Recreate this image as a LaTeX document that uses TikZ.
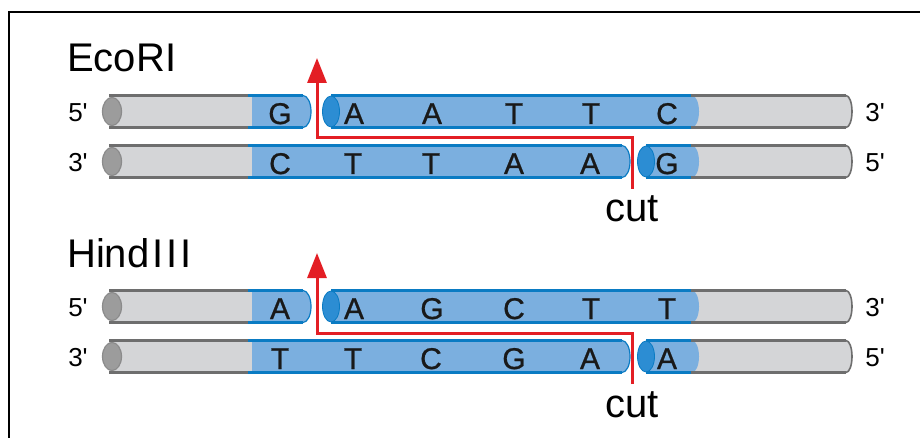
\documentclass[tikz,border=0pt]{standalone}
\usepackage{fontspec}
\setmainfont{Liberation Sans}
\newfontfamily\medfont[FakeBold=0.8]{Liberation Sans}
\usetikzlibrary{arrows.meta}
\definecolor{gfillc}{HTML}{D4D5D7}
\definecolor{glinec}{HTML}{6E6E6E}
\definecolor{bfillc}{HTML}{7BAFDF}
\definecolor{blinec}{HTML}{0A7BC3}
\definecolor{bcapc}{HTML}{2C8DD3}
\definecolor{lcapc}{HTML}{9C9C9C}
\definecolor{redc}{HTML}{E31E24}
\tikzset{
  gline/.style={draw=glinec,line width=3pt},
  bline/.style={draw=blinec,line width=3pt},
  bthin/.style={draw=blinec,line width=1.2pt},
  gthin/.style={draw=glinec,line width=1.6pt},
  base/.style={font=\medfont\fontsize{30}{30}\selectfont,anchor=base,inner sep=0pt,text=black!90},
  endlbl/.style={font=\fontsize{26}{26}\selectfont,anchor=base,inner sep=0pt},
  enzlbl/.style={font=\fontsize{40}{40}\selectfont,anchor=base west,inner sep=0pt},
  cutlbl/.style={font=\fontsize{40}{40}\selectfont,anchor=base,inner sep=0pt},
  redarrow/.style={draw=redc,line width=3pt,-{Triangle[width=19pt,length=25pt]}},
}
% #1 = centre y, #2 = end of straight part of left blue segment, #3 = centre of the blue cap of right segment
\newcommand{\dnastrand}[3]{%
  \fill[gfillc] (109,#1-16) rectangle (256,#1+16);
  \fill[gfillc] (686,#1-16) -- (846,#1-16) arc[start angle=-90,end angle=90,x radius=6,y radius=16] -- (686,#1+16) -- cycle;
  \fill[bfillc] (252,#1-16) -- (#2,#1-16) arc[start angle=-90,end angle=90,x radius=8,y radius=16] -- (252,#1+16) -- cycle;
  \fill[bfillc] (#3,#1-16) -- (692,#1-16) arc[start angle=-90,end angle=90,x radius=7,y radius=16] -- (#3,#1+16) -- cycle;
  \draw[gline] (109,#1-16) -- (248,#1-16) (109,#1+16) -- (248,#1+16);
  \draw[gline] (691,#1-16) -- (846,#1-16) (691,#1+16) -- (846,#1+16);
  \draw[gthin] (846,#1-16) arc[start angle=-90,end angle=90,x radius=6,y radius=16];
  \draw[bline] (248,#1-16) -- (#2,#1-16) (248,#1+16) -- (#2,#1+16);
  \draw[bthin] (#2,#1-16) arc[start angle=-90,end angle=90,x radius=8,y radius=16];
  \draw[bline] (#3,#1-16) -- (691,#1-16) (#3,#1+16) -- (691,#1+16);
  \filldraw[fill=bcapc,draw=blinec,line width=0.8pt] (#3,#1) ellipse[x radius=8.5,y radius=15.5];
  \filldraw[fill=lcapc,draw=glinec!80,line width=1.2pt] (112,#1) ellipse[x radius=9.5,y radius=14];
}
\begin{document}
\begin{tikzpicture}[x=1pt,y=-1pt]
\useasboundingbox (0,0) rectangle (920,438);
\fill[white] (0,0) rectangle (920,438);
\draw[line width=2.5pt,black] (9,438) |- (920,12);

% ---------- EcoRI ----------
\node[enzlbl] (ecolbl) at (67,72) {EcoRI};
\dnastrand{111.5}{303}{331}
\dnastrand{161.5}{622}{646}
\node[endlbl] (e5a) at (78,121.5) {5\textquotesingle};
\node[endlbl] (e3a) at (875,121.5) {3\textquotesingle};
\node[endlbl] (e3b) at (78,171.5) {3\textquotesingle};
\node[endlbl] (e5b) at (875,171.5) {5\textquotesingle};
\foreach \ch/\x [count=\i] in {G/280,A/354,A/432,T/514,T/591,C/667}
  \node[base] (et\i) at (\x,124) {\ch};
\foreach \ch/\x [count=\i] in {C/280,T/353,T/431,A/514,A/590,G/667}
  \node[base] (eb\i) at (\x,174) {\ch};
\coordinate (ecut) at (632,189);
\coordinate (emid) at (475,138);
\coordinate (etip) at (317,58);
\draw[redarrow] (ecut) |- (emid) -| (etip);
\node[cutlbl] (ecutl) at (632,222) {cut};

% ---------- HindIII ----------
\node[enzlbl] (hinlbl) at (67,267) {Hind\kern3ptI\kern3ptI\kern3ptI};
\dnastrand{306.5}{303}{331}
\dnastrand{356.5}{622}{646}
\node[endlbl] (h5a) at (78,316.5) {5\textquotesingle};
\node[endlbl] (h3a) at (875,316.5) {3\textquotesingle};
\node[endlbl] (h3b) at (78,366.5) {3\textquotesingle};
\node[endlbl] (h5b) at (875,366.5) {5\textquotesingle};
\foreach \ch/\x [count=\i] in {A/280,A/354,G/432,C/514,T/591,T/667}
  \node[base] (ht\i) at (\x,319) {\ch};
\foreach \ch/\x [count=\i] in {T/280,T/353,C/431,G/514,A/590,A/667}
  \node[base] (hb\i) at (\x,369) {\ch};
\coordinate (hcut) at (632,384);
\coordinate (hmid) at (475,333);
\coordinate (htip) at (317,253);
\draw[redarrow] (hcut) |- (hmid) -| (htip);
\node[cutlbl] (hcutl) at (632,417) {cut};
\end{tikzpicture}
\end{document}
